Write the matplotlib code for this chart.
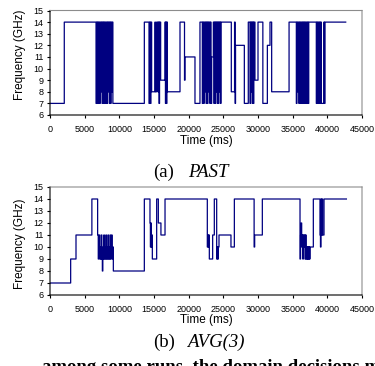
import matplotlib
matplotlib.use("Agg")
import matplotlib.pyplot as plt

plt.rcParams["path.simplify"] = False
plt.rcParams["path.snap"] = False

# frequency change points (ms, GHz) for the two policies
past_time = [0, 2060,
             6640, 6730, 6820, 6900, 6990, 7080, 7160, 7250, 7340, 7420, 7510, 7600,
             7690, 7770, 7860, 7950, 8030, 8120, 8210, 8290, 8380, 8470, 8550, 8640,
             8730, 8810, 8900, 8990, 9070,
             13606,
             14280, 14370, 14470, 14560, 14660, 15140, 15200, 15380, 15560, 15640, 15720,
             15800, 15960, 16590, 16650, 16720, 16790, 16860, 16930,
             18750, 19400, 19470, 20910, 21630,
             21970, 22060, 22150, 22240, 22330, 22420, 22510, 22600, 22690, 22780, 22870,
             22960, 23050, 23140, 23220, 23320,
             23560, 23640, 23720, 23800, 23880, 23960, 24040, 24120, 24200, 24280, 24360,
             24440, 24520, 24600, 24660,
             26150, 26620, 26700, 26760, 28030, 28600, 28850, 28930, 29010, 29090, 29170,
             29250, 29330, 29400, 29560, 30000, 30700, 31350, 31730, 31970, 34480,
             35530, 35620, 35710, 35800, 35890, 35980, 36150, 36240, 36330, 36420, 36510,
             36600, 36690, 36780, 36870, 36960, 37050, 37140, 37230, 37320,
             38410, 38500, 38590, 38680, 38770, 38860, 38950, 39040, 39130, 39500, 39580,
             39660, 42650]
past_freq = [7, 14,
             7, 14, 7, 14, 7, 14, 7, 14, 8, 14, 7, 14,
             7, 14, 7, 14, 7, 14, 7, 14, 8, 14, 7, 14,
             7, 14, 8, 14, 7,
             14,
             7, 14, 7, 14, 8, 14, 8, 14, 8, 14, 7,
             14, 9, 14, 7, 14, 7, 14, 8,
             14, 9, 11, 7, 14,
             7, 14, 7, 14, 8, 14, 7, 14, 7, 14, 8,
             14, 7, 14, 7, 11,
             14, 7, 14, 7, 14, 8, 14, 7, 14, 7, 14,
             8, 14, 7, 14,
             8, 14, 7, 12, 7, 14, 7, 14, 8, 14, 7,
             14, 7, 14, 9, 14, 7, 12, 14, 8, 14,
             7, 14, 8, 14, 7, 14, 7, 14, 7, 14, 7,
             14, 7, 14, 7, 14, 7, 14, 7, 14,
             7, 14, 7, 14, 7, 14, 7, 14, 7, 14, 7,
             14, 14]

avg_time = [0, 2980, 3750, 6040,
            6870, 6960, 7040, 7100, 7180, 7250, 7320, 7400, 7480, 7550, 7620, 7690,
            7760, 7840, 7910, 7980, 8060, 8140, 8210, 8280, 8360, 8440, 8510, 8580,
            8660, 8740, 8810, 8880, 8960, 9040, 9135,
            13606, 14420, 14480, 14540, 14600, 14660, 14760, 15385, 15625, 16000, 16590,
            22690, 22760, 22830, 22900, 22980, 23460, 23700, 24040, 24120, 24200, 24280,
            24375, 26100, 26590,
            29440, 29520, 30625,
            36060, 36140, 36220, 36300, 36380, 36460, 36540, 36620, 36700, 36780, 36860,
            36940, 37020, 37080, 37140, 37200, 37260, 37320, 37380, 37440, 37500, 37980,
            38940, 39010, 39080, 39160, 39240, 39320, 39520, 42750]
avg_freq = [7, 9, 11, 14,
            11, 9, 10, 11, 9, 10, 9, 11, 9, 8, 10, 9,
            11, 9, 10, 9, 11, 9, 10, 9, 11, 9, 10, 9,
            11, 9, 10, 11, 9, 10, 8,
            14, 12, 10, 12, 10, 11, 9, 14, 12, 11, 14,
            10, 11, 10, 11, 9, 11, 14, 9, 10, 9, 10,
            11, 10, 14,
            10, 11, 14,
            9, 11, 12, 10, 11, 9, 11, 10, 11, 9, 11,
            9, 10, 9, 10, 9, 10, 9, 10, 9, 10, 14,
            11, 10, 14, 11, 14, 11, 14, 14]

x_ticks = list(range(0, 45001, 5000))
y_ticks = list(range(6, 16))

W, H = 375, 366
fig = plt.figure(figsize=(W / 100, H / 100), dpi=100)
sans = "Liberation Sans"
serif = "Liberation Serif"


def make_axes(top_px, bottom_px, t, f):
    ax = fig.add_axes([50 / W, 1 - bottom_px / H, 312 / W, (bottom_px - top_px) / H])
    ax.step(t, f, where="post", color="#000080", lw=0.9)
    ax.set_xlim(0, 45000)
    ax.set_ylim(6, 15)
    ax.set_xticks(x_ticks)
    ax.set_yticks(y_ticks)
    for lab in ax.get_xticklabels() + ax.get_yticklabels():
        lab.set_fontfamily(sans)
        lab.set_fontsize(6.5)
    ax.tick_params(axis="x", direction="out", length=2.5, width=0.8, pad=5)
    ax.tick_params(axis="y", direction="out", length=2.5, width=0.8, pad=2)
    for s in ("top", "right"):
        ax.spines[s].set_color("#8c8c8c")
        ax.spines[s].set_linewidth(0.8)
    for s in ("left", "bottom"):
        ax.spines[s].set_linewidth(0.8)
    return ax


make_axes(10.5, 115, past_time, past_freq)
make_axes(187, 295, avg_time, avg_freq)

# axis titles
for yc in (55, 244):
    fig.text(20 / W, 1 - yc / H, "Frequency (GHz)", rotation=90, ha="center",
             va="center", family=sans, fontsize=8.5)
for yc in (141.5, 319.5):
    fig.text(206 / W, 1 - yc / H, "Time (ms)", ha="center", va="center",
             family=sans, fontsize=8.5)

# sub-captions
fig.text(153 / W, 1 - 177 / H, "(a)", family=serif, fontsize=13.5, va="baseline")
fig.text(188 / W, 1 - 177 / H, "PAST", family=serif, style="italic", fontsize=13.5,
         va="baseline")
fig.text(153 / W, 1 - 347 / H, "(b)", family=serif, fontsize=13.5, va="baseline")
fig.text(187 / W, 1 - 347 / H, "AVG(3)", family=serif, style="italic", fontsize=13.5,
         va="baseline")

# top of the next caption line, cut off by the page edge
fig.text(42 / W, 1 - 372 / H, "among some runs, the domain decisions made by all",
         family=serif, weight="bold", fontsize=13.5, va="baseline")

fig.savefig("out.png", dpi=100)
